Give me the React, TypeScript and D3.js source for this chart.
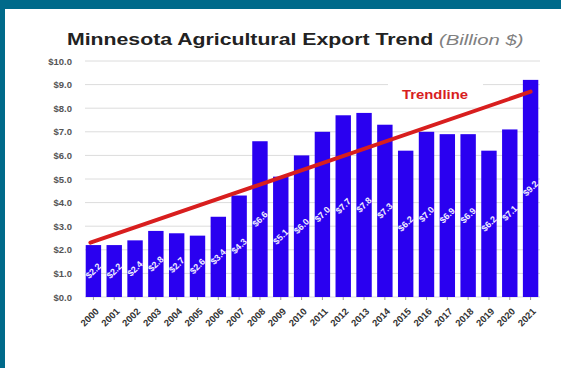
import React from "react";
import * as d3 from "d3";

const years = ["2000","2001","2002","2003","2004","2005","2006","2007","2008","2009","2010","2011","2012","2013","2014","2015","2016","2017","2018","2019","2020","2021"];
const values = [2.2, 2.2, 2.4, 2.8, 2.7, 2.6, 3.4, 4.3, 6.6, 5.1, 6.0, 7.0, 7.7, 7.8, 7.3, 6.2, 7.0, 6.9, 6.9, 6.2, 7.1, 9.2];
const yTicks = [0, 1, 2, 3, 4, 5, 6, 7, 8, 9, 10];
const trendStart = 2.3;
const trendEnd = 8.7;

const W = 561, H = 368;
const plotLeft = 83, plotRight = 541, plotTop = 61, plotBottom = 297;

export default function App() {
  const x = d3.scaleBand<string>().domain(years).range([plotLeft, plotRight]).paddingInner(0.26).paddingOuter(0.13);
  const y = d3.scaleLinear().domain([0, 10]).range([plotBottom, plotTop]);
  const fmt = (v: number) => "$" + d3.format(".1f")(v);
  const cx = (yr: string) => (x(yr) as number) + x.bandwidth() / 2;
  const line = d3.line<[number, number]>().x(d => d[0]).y(d => y(d[1]));
  const trendPts: [number, number][] = [
    [cx(years[0]) - 3, trendStart],
    [cx(years[years.length - 1]), trendEnd],
  ];
  return (
    <svg width={W} height={H} style={{ position: "absolute", left: 0, top: 0, background: "#fff" }} fontFamily="Liberation Sans, Arial, sans-serif">
      <rect x={0} y={0} width={W} height={9} fill="#006a8a" />
      <rect x={0} y={0} width={5} height={H} fill="#006a8a" />
      <text transform="translate(67,45) scale(1.25,1)" fontSize={17} fontWeight="bold" fill="#222">
        Minnesota Agricultural Export Trend
      </text>
      <text transform="translate(439,45) scale(1.45,1)" fontSize={14} fontStyle="italic" fill="#808080">(Billion $)</text>
      {yTicks.map(t => (
        <g key={t}>
          <line x1={85} x2={540} y1={y(t)} y2={y(t)} stroke="#dcdcdc" strokeWidth={1} />
          <text x={72} y={y(t) + 3.5} fontSize={9.5} fontWeight="bold" textAnchor="end" fill="#555">{fmt(t)}</text>
        </g>
      ))}
      <rect x={388} y={78} width={95} height={16} fill="#fff" />
      {years.map((yr, i) => (
        <g key={yr}>
          <rect x={x(yr)} y={y(values[i])} width={x.bandwidth()} height={plotBottom - y(values[i])} fill="#2a00f0" />
          <text transform={`translate(${cx(yr)},${y(values[i] / 2)}) rotate(-45)`} fontSize={9} fontWeight="bold" fill="#f0eeff" textAnchor="middle" dy={3}>{fmt(values[i])}</text>
          <line x1={cx(yr)} x2={cx(yr)} y1={plotBottom} y2={plotBottom + 3} stroke="#999" />
          <text transform={`translate(${cx(yr) + 6},${plotBottom + 15}) rotate(-45)`} fontSize={9.5} fontWeight="bold" fill="#333" textAnchor="end">{yr}</text>
        </g>
      ))}
      <path d={line(trendPts) || ""} stroke="#d81e1e" strokeWidth={4} fill="none" strokeLinecap="round" />
      <text x={402} y={99} fontSize={12.5} fontWeight="bold" fill="#d81e1e" textLength={66} lengthAdjust="spacingAndGlyphs">Trendline</text>
    </svg>
  );
}
